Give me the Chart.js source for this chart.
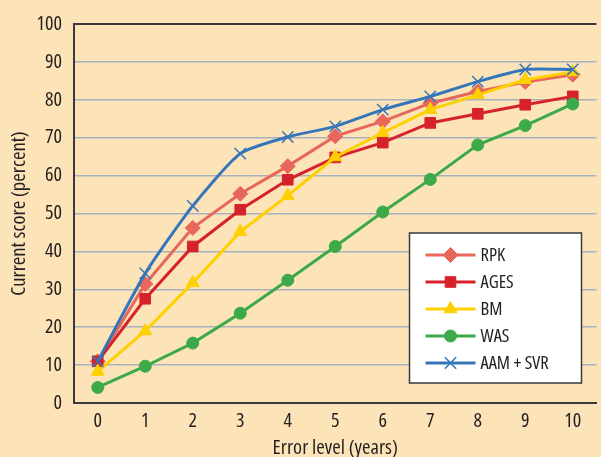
<!DOCTYPE html>
<html>
<head>
<meta charset="utf-8">
<script src="https://cdn.jsdelivr.net/npm/chart.js@4/dist/chart.umd.min.js"></script>
<style>
  html, body { margin: 0; padding: 0; overflow: hidden; background: #FDE4B8; }
  #wrap { width: 606px; height: 457px; position: relative; }
</style>
</head>
<body>
<div id="wrap"><canvas id="c"></canvas></div>
<script>
// Error level in years (x axis categories)
const errorLevels = ['0', '1', '2', '3', '4', '5', '6', '7', '8', '9', '10'];

// Current score (percent) for each method
const rpk    = [11, 31.4, 46.2, 55.2, 62.5, 70.4, 74.3, 79.1, 82.2, 84.7, 86.6];
const ages   = [11, 27.5, 41.3, 51.0, 58.9, 64.8, 68.7, 73.9, 76.3, 78.7, 80.9];
const bm     = [8.3, 19.0, 31.7, 45.2, 54.7, 64.9, 71.3, 77.4, 81.3, 85.3, 87.3];
const was    = [4.1, 9.7, 15.8, 23.7, 32.4, 41.3, 50.4, 59.0, 68.1, 73.2, 78.9];
const aamSvr = [11, 34.2, 52.0, 65.8, 70.2, 73.0, 77.4, 80.9, 84.8, 88.0, 88.0];

const yTicks = [0, 10, 20, 30, 40, 50, 60, 70, 80, 90, 100];

// Condensed face of the variable Open Sans
const FAMILY = "'Open Sans', sans-serif";
const STRETCH = 'condensed';
const INK = '#231F20';

const series = [
  { label: 'RPK',       data: rpk,    color: '#E8675B', style: 'rectRot',  radius: 7.5, order: 5 },
  { label: 'AGES',      data: ages,   color: '#D6222B', style: 'rect',     radius: 7.5, order: 4 },
  { label: 'BM',        data: bm,     color: '#FFD000', style: 'triangle', radius: 7.5, order: 3 },
  { label: 'WAS',       data: was,    color: '#3DAA49', style: 'circle',   radius: 6,   order: 2 },
  { label: 'AAM + SVR', data: aamSvr, color: '#3576B9', style: 'crossRot', radius: 8,   order: 1, tension: 0.2 }
];

// Boxed legend drawn inside the lower-right corner of the plot
const boxedLegend = {
  id: 'boxedLegend',
  afterDraw(chart) {
    const { ctx, chartArea: ca } = chart;
    const w = 172, h = 150;
    const x0 = ca.right - 187, y0 = ca.bottom - 170;
    ctx.save();
    ctx.fillStyle = '#ffffff';
    ctx.fillRect(x0, y0, w, h);
    ctx.strokeStyle = '#3a3a3a';
    ctx.lineWidth = 1.5;
    ctx.strokeRect(x0, y0, w, h);
    series.forEach((s, i) => {
      const y = y0 + 22 + i * 27;
      ctx.strokeStyle = s.color;
      ctx.lineWidth = 3;
      ctx.beginPath();
      ctx.moveTo(x0 + 16, y);
      ctx.lineTo(x0 + 66, y);
      ctx.stroke();
      ctx.fillStyle = s.color;
      ctx.strokeStyle = s.color;
      ctx.lineWidth = s.style === 'crossRot' ? 1.5 : 1;
      Chart.helpers.drawPoint(ctx, { pointStyle: s.style, radius: s.radius, borderWidth: ctx.lineWidth, rotation: 0 }, x0 + 41, y);
      ctx.fillStyle = INK;
      ctx.font = STRETCH + ' 18.5px ' + FAMILY;
      ctx.textBaseline = 'middle';
      ctx.textAlign = 'left';
      ctx.fillText(s.label, x0 + 71, y + 1);
    });
    ctx.restore();
  }
};

new Chart(document.getElementById('c'), {
  type: 'line',
  data: {
    labels: errorLevels,
    datasets: series.map(s => ({
      label: s.label,
      data: s.data,
      borderColor: s.color,
      backgroundColor: s.color,
      borderWidth: 3,
      pointStyle: s.style,
      pointRadius: s.radius,
      pointHoverRadius: s.radius,
      pointBorderWidth: s.style === 'crossRot' ? 1.5 : 1,
      tension: s.tension || 0,
      order: s.order,
      fill: false
    }))
  },
  options: {
    responsive: true,
    maintainAspectRatio: false,
    animation: false,
    layout: { padding: { top: 20, right: 1, left: 0, bottom: 0 } },
    plugins: { legend: { display: false }, tooltip: { enabled: false } },
    scales: {
      x: {
        offset: true,
        grid: { display: false, drawTicks: false },
        border: { display: true, color: '#3a3a3a', width: 2 },
        ticks: { color: INK, font: { family: FAMILY, weight: STRETCH, size: 20 }, padding: 6 },
        title: { display: true, text: 'Error level (years)', color: INK, font: { family: FAMILY, weight: STRETCH, size: 20.5, lineHeight: 0.9 }, padding: { top: 0, bottom: 0 } },
        afterFit(scale) { scale.height = 54; }
      },
      y: {
        min: 0, max: 100,
        afterBuildTicks(scale) { scale.ticks = yTicks.map(v => ({ value: v })); },
        grid: {
          drawTicks: false,
          color: ctx => (ctx.tick && ctx.tick.value === 100) ? '#3a3a3a' : '#A7B1BF',
          lineWidth: ctx => (ctx.tick && ctx.tick.value === 100) ? 2 : 1.6
        },
        border: { display: true, color: '#3a3a3a', width: 2 },
        ticks: { color: INK, font: { family: FAMILY, weight: STRETCH, size: 20 }, padding: 12 },
        title: { display: true, text: 'Current score (percent)', color: INK, font: { family: FAMILY, weight: STRETCH, size: 20.5 }, padding: { top: 7, bottom: 0 } },
        afterFit(scale) { scale.width = 74; }
      }
    }
  },
  plugins: [boxedLegend]
});
</script>
</body>
</html>
